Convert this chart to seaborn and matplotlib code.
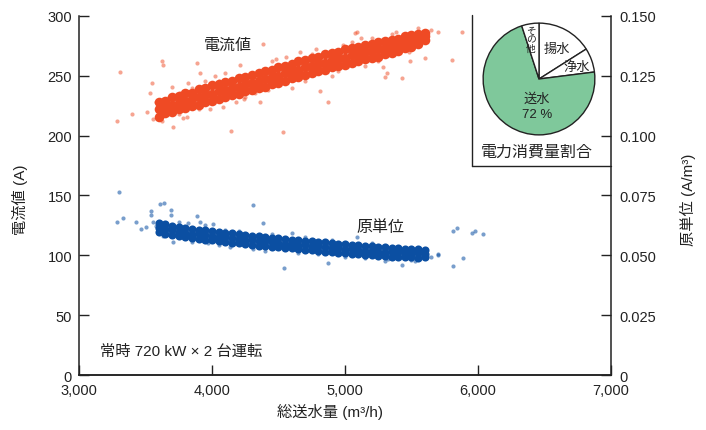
import matplotlib
matplotlib.use('Agg')
import matplotlib.pyplot as plt
from matplotlib.lines import Line2D
from matplotlib.ticker import FuncFormatter
import pandas as pd
import seaborn as sns

# --- data ---
core_flow = [3600, 3650, 3700, 3750, 3800, 3850, 3900, 3950, 4000, 4050, 4100,
             4150, 4200, 4250, 4300, 4350, 4400, 4450, 4500, 4550, 4600, 4650,
             4700, 4750, 4800, 4850, 4900, 4950, 5000, 5050, 5100, 5150, 5200,
             5250, 5300, 5350, 5400, 5450, 5500, 5550, 5600]

# 電流値 (A): dense band, centre / upper edge / lower edge
current_mid = [222, 224, 226, 227, 229, 231, 232, 234, 235, 237, 238, 240, 241, 243,
               244, 246, 247, 249, 250, 252, 254, 255, 257, 258, 260, 261, 263, 264,
               265, 267, 268, 270, 271, 272, 273, 275, 276, 278, 279, 281, 283]
current_hi = [228, 229, 232, 233, 236, 236, 239, 240, 242, 243, 245, 246, 248, 249,
              251, 252, 254, 255, 257, 258, 260, 262, 263, 265, 266, 268, 269, 270,
              272, 273, 274, 276, 277, 278, 279, 280, 281, 283, 284, 285, 286]
current_lo = [216, 219, 220, 222, 223, 225, 226, 228, 229, 231, 232, 234, 235, 237,
              238, 240, 241, 243, 244, 246, 248, 249, 251, 252, 254, 255, 257, 258,
              259, 261, 262, 264, 265, 266, 268, 269, 271, 273, 274, 277, 280]
# 電流値 scattered points
current_out_flow = [3632, 3511, 3549, 3624, 3707, 3910, 3887, 4211, 4361, 4534, 3985,
                    4083, 3812, 3699, 3534, 3308, 3286, 3624, 3398, 5090, 5699, 5880,
                    5805, 5429, 4872, 5286, 5301, 4383, 4662, 5489, 5617, 5316, 4812,
                    5075, 5602, 4985, 5203, 4143, 4450, 4600, 4750, 4900, 5150, 5350,
                    4250, 4050, 3850, 3750, 3760, 3820, 3950, 4020, 4100, 4180, 4240,
                    4320, 3900, 3780, 3680, 3580, 3560, 4420, 4480, 4560, 4700, 4780,
                    4950, 5050, 5120, 5250, 5380, 5480, 5550, 5650]
current_out = [259, 220, 244, 212, 207, 252, 261, 259, 228, 203, 222,
               224, 216, 241, 236, 253, 212, 262, 218, 287, 287, 287,
               263, 248, 228, 257, 249, 277, 270, 262, 284, 252, 237,
               286, 265, 276, 282, 204, 262, 240, 268, 250, 258, 285,
               232, 246, 240, 218, 236, 244, 246, 250, 252, 228, 231,
               236, 222, 215, 232, 228, 214, 238, 264, 266, 246, 272,
               254, 278, 282, 262, 287, 270, 290, 288]

# 原単位 (A/m3): dense band, centre / upper edge / lower edge
unit_mid = [0.0615, 0.0609, 0.0604, 0.0599, 0.0595, 0.0591, 0.0588, 0.0584, 0.0582,
            0.0578, 0.0575, 0.0572, 0.0570, 0.0566, 0.0563, 0.0560, 0.0558, 0.0554,
            0.0552, 0.0549, 0.0547, 0.0544, 0.0542, 0.0540, 0.0537, 0.0535, 0.0532,
            0.0530, 0.0528, 0.0525, 0.0523, 0.0520, 0.0518, 0.0516, 0.0514, 0.0513,
            0.0512, 0.0510, 0.0509, 0.0508, 0.0507]
unit_hi = [0.0634, 0.0630, 0.0624, 0.0620, 0.0614, 0.0612, 0.0607, 0.0605, 0.0601,
           0.0599, 0.0594, 0.0592, 0.0589, 0.0586, 0.0582, 0.0580, 0.0577, 0.0574,
           0.0571, 0.0569, 0.0566, 0.0564, 0.0561, 0.0559, 0.0556, 0.0554, 0.0551,
           0.0549, 0.0547, 0.0544, 0.0542, 0.0539, 0.0537, 0.0535, 0.0533, 0.0531,
           0.0530, 0.0528, 0.0527, 0.0525, 0.0522]
unit_lo = [0.0598, 0.0590, 0.0586, 0.0580, 0.0577, 0.0572, 0.0570, 0.0565, 0.0563,
           0.0559, 0.0557, 0.0553, 0.0551, 0.0548, 0.0545, 0.0541, 0.0540, 0.0536,
           0.0534, 0.0530, 0.0529, 0.0525, 0.0524, 0.0521, 0.0519, 0.0516, 0.0514,
           0.0511, 0.0510, 0.0507, 0.0505, 0.0502, 0.0500, 0.0498, 0.0496, 0.0495,
           0.0494, 0.0492, 0.0491, 0.0490, 0.0492]
# 原単位 scattered points
unit_out_flow = [3301, 3286, 3331, 3609, 3639, 3541, 3541, 3692, 3692, 3429, 3466,
                 3504, 3556, 3887, 3910, 4008, 4308, 4383, 3970, 3707, 3632, 4135,
                 4308, 4541, 4601, 5812, 5842, 5955, 5977, 6038, 5887, 5812, 5699,
                 5526, 5429, 4872, 5301, 5323, 5090, 5602, 3750, 3820, 3950, 4100,
                 4200, 4450, 4700, 4900, 5200, 3850, 4050, 4400, 4650, 4800, 5000,
                 5150, 5500, 5650, 5700, 3580]
unit_out = [0.0763, 0.0640, 0.0655, 0.0715, 0.0720, 0.0685, 0.0670, 0.0690, 0.0670,
            0.0638, 0.0610, 0.0620, 0.0638, 0.0665, 0.0638, 0.0630, 0.0710, 0.0635,
            0.0550, 0.0555, 0.0580, 0.0535, 0.0525, 0.0445, 0.0595, 0.0600, 0.0615,
            0.0595, 0.0600, 0.0590, 0.0488, 0.0455, 0.0505, 0.0475, 0.0458, 0.0470,
            0.0475, 0.0483, 0.0575, 0.0508, 0.0640, 0.0635, 0.0625, 0.0605,
            0.0600, 0.0590, 0.0575, 0.0565, 0.0550, 0.0555, 0.0545, 0.0520, 0.0510,
            0.0505, 0.0495, 0.0487, 0.0480, 0.0495, 0.0500, 0.0622]

# 電力消費量割合 (%)
share_labels = ['揚水', '浄水', '送水', 'その他']
share_values = [16, 7, 72, 5]

RED = '#ef4a24'
BLUE = '#0b4fa2'
GREEN = '#7fc89b'
INK = '#222222'

sns.set_style('ticks')
plt.rcParams['font.family'] = ['Liberation Sans', 'Noto Sans CJK JP']
plt.rcParams['axes.unicode_minus'] = False

current_core = pd.DataFrame({
    'flow': core_flow * 3,
    'current': current_mid + current_hi + current_lo,
})
unit_core = pd.DataFrame({
    'flow': core_flow * 3,
    'unit': unit_mid + unit_hi + unit_lo,
})

fig = plt.figure(figsize=(7.06, 4.31), dpi=100)
ax = fig.add_axes([0.1119, 0.1276, 0.7535, 0.833])
ax2 = ax.twinx()

sns.scatterplot(x=current_out_flow, y=current_out, ax=ax, color=RED, s=9,
                linewidth=0, alpha=0.5)
sns.scatterplot(data=current_core, x='flow', y='current', ax=ax, color=RED, s=48,
                linewidth=0, alpha=1.0)
sns.scatterplot(x=unit_out_flow, y=unit_out, ax=ax2, color=BLUE, s=9,
                linewidth=0, alpha=0.55)
sns.scatterplot(data=unit_core, x='flow', y='unit', ax=ax2, color=BLUE, s=34,
                linewidth=0, alpha=1.0)

ax.set_xlim(3000, 7000)
ax.set_ylim(0, 300)
ax2.set_ylim(0, 0.150)
ax.set_xticks([3000, 4000, 5000, 6000, 7000])
ax.set_yticks([0, 50, 100, 150, 200, 250, 300])
ax2.set_yticks([0, 0.025, 0.05, 0.075, 0.1, 0.125, 0.15])
ax.xaxis.set_major_formatter(FuncFormatter(lambda v, p: f'{v:,.0f}'))
ax2.yaxis.set_major_formatter(FuncFormatter(lambda v, p: '0' if v == 0 else f'{v:.3f}'))
ax.set_xlabel('')
ax.set_ylabel('')
ax2.set_ylabel('')

for a in (ax, ax2):
    a.spines['top'].set_visible(False)
    for s in a.spines.values():
        s.set_color(INK)
        s.set_linewidth(1.1)
ax.spines['right'].set_visible(False)
ax2.spines['left'].set_visible(False)
ax.tick_params(axis='x', direction='in', length=7, width=1, colors=INK, labelsize=10.5, pad=6)
ax.tick_params(axis='y', direction='in', length=7, width=1, colors=INK, labelsize=10.5, pad=5)
ax2.tick_params(axis='y', direction='in', length=7, width=1, colors=INK, labelsize=10.5, pad=6)

# axis titles and annotations
fig.text(330 / 706, 1 - 412 / 431, '総送水量 (m³/h)', ha='center', va='center',
         fontsize=11, color=INK)
fig.text(20 / 706, 1 - 200 / 431, '電流値 (A)', ha='center', va='center',
         rotation=90, fontsize=11, color=INK)
fig.text(688 / 706, 1 - 200 / 431, '原単位 (A/m³)', ha='center', va='center',
         rotation=90, fontsize=11, color=INK)
fig.text(228 / 706, 1 - 45 / 431, '電流値', ha='center', va='center', fontsize=11.5, color=INK)
fig.text(380 / 706, 1 - 228 / 431, '原単位', ha='center', va='center', fontsize=11.5, color=INK)
fig.text(100 / 706, 1 - 352 / 431, '常時 720 kW × 2 台運転', ha='left', va='center',
         fontsize=11, color=INK)

# inset frame
fig.add_artist(Line2D([472 / 706, 472 / 706], [1 - 16 / 431, 1 - 167 / 431],
                      transform=fig.transFigure, color=INK, lw=1))
fig.add_artist(Line2D([472 / 706, 611 / 706], [1 - 167 / 431, 1 - 167 / 431],
                      transform=fig.transFigure, color=INK, lw=1))
fig.text(537 / 706, 1 - 152 / 431, '電力消費量割合', ha='center', va='center',
         fontsize=11.5, color=INK)

# pie inset
pie_ax = fig.add_axes([482 / 706, 1 - 137 / 431, 114 / 706, 114 / 431])
pie_ax.pie(share_values, colors=['white', 'white', GREEN, 'white'], startangle=90,
           counterclock=False, radius=1,
           wedgeprops={'edgecolor': INK, 'linewidth': 1})
pie_ax.set_xlim(-1.02, 1.02)
pie_ax.set_ylim(-1.02, 1.02)
pie_ax.set_aspect('auto')
pie_ax.axis('off')
pie_ax.text(0.32, 0.54, share_labels[0], ha='center', va='center', fontsize=9.5, color=INK)
pie_ax.text(0.68, 0.21, share_labels[1], ha='center', va='center', fontsize=9.5, color=INK)
pie_ax.text(-0.04, -0.35, share_labels[2], ha='center', va='center', fontsize=9.5, color=INK)
pie_ax.text(-0.04, -0.63, f'{share_values[2]} %', ha='center', va='center', fontsize=9.5, color=INK)
pie_ax.text(-0.14, 0.72, '\n'.join(share_labels[3]), ha='center', va='center',
            fontsize=7, color=INK, linespacing=0.85)

fig.savefig('out.png', dpi=100)
